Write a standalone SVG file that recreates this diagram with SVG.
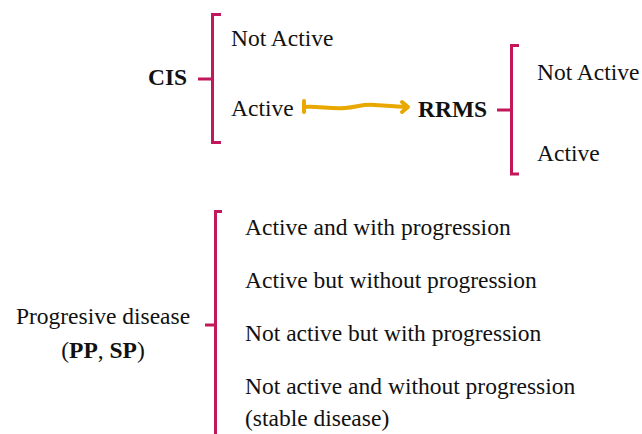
<svg xmlns="http://www.w3.org/2000/svg" width="642" height="434" viewBox="0 0 642 434">
<style>
.t{font-family:"Liberation Serif","Times New Roman",serif;font-size:23.5px;fill:#111}
.b{font-weight:bold}
.br{fill:none;stroke:#C2185B;stroke-width:3;stroke-linecap:butt;stroke-linejoin:miter}
.ar{fill:none;stroke:#E8A800;stroke-width:4;stroke-linecap:round;stroke-linejoin:round}
</style>
<rect width="642" height="434" fill="#fff"/>
<g id="cis">
<text class="t b" x="148" y="85">CIS</text>
<path class="br" d="M221 14.5 H212.5 V142.5 H221 M198 79 H212.5"/>
</g>
<g id="cis-notactive"><text class="t" x="231" y="46">Not Active</text></g>
<g id="cis-active"><text class="t" x="231" y="116">Active</text></g>
<g id="rrms">
<text class="t b" x="418" y="117">RRMS</text>
<path class="br" d="M519 45.5 H511.5 V174 H519 M497 110 H511.5"/>
</g>
<g id="rrms-notactive"><text class="t" x="537" y="80">Not Active</text></g>
<g id="rrms-active"><text class="t" x="537" y="161">Active</text></g>
<g id="progressive">
<text class="t" x="103" y="324" text-anchor="middle">Progresive disease</text>
<text class="t" x="103" y="358" text-anchor="middle">(<tspan class="b">PP</tspan>, <tspan class="b">SP</tspan>)</text>
<path class="br" d="M222 211.5 H215.5 V434 M205 325 H215.5"/>
</g>
<g id="p1"><text class="t" x="245" y="235">Active and with progression</text></g>
<g id="p2"><text class="t" x="245" y="288">Active but without progression</text></g>
<g id="p3"><text class="t" x="245" y="341">Not active but with progression</text></g>
<g id="p4"><text class="t" x="245" y="394">Not active and without progression</text><text class="t" x="245" y="426">(stable disease)</text></g>
<g id="connectors">
<path class="ar" d="M304 101 V112 M304 107 C318 106 330 109 345 108 C358 107 362 104 375 105 C388 106 398 107 407 107"/>
<path class="ar" d="M402 102 L408 107 L402 112" fill="none"/>
</g>
</svg>
